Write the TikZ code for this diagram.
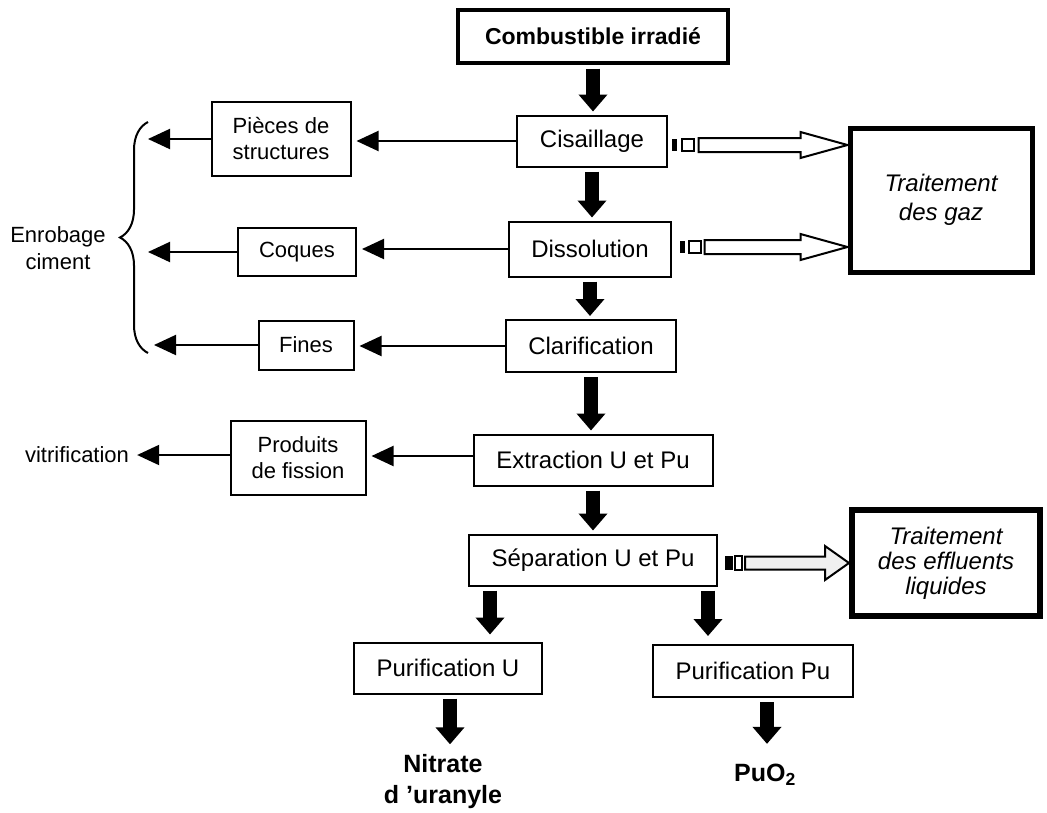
\documentclass[tikz,border=0pt]{standalone}
\usepackage{fontspec}
\setmainfont{Liberation Sans}
\usetikzlibrary{arrows.meta,calc,decorations.pathreplacing}

\begin{document}
\begin{tikzpicture}[x=1pt,y=-1pt,
    stage/.style={draw, line width=2pt, minimum height=51pt, inner sep=0pt,
      font=\fontsize{24}{28}\selectfont},
    side/.style={draw, line width=2pt, inner sep=0pt, align=center,
      font=\fontsize{22}{26}\selectfont},
    treat/.style={draw, line width=5pt, inner sep=0pt, align=center,
      font=\fontsize{24}{29}\selectfont\itshape},
    product/.style={align=center, font=\fontsize{25}{31}\selectfont\bfseries},
    flow arrow/.style={line width=14pt, -{Triangle[width=28pt,length=17pt]},
      shorten <=4pt, shorten >=3pt},
    out arrow/.style={line width=2pt, -{Triangle[width=20pt,length=22pt]}},
    gas arrow/.style={draw, line width=2pt, fill=white, line join=miter}]

    \useasboundingbox (0,0) rectangle (1047,812);

    % Combustible irradie
    \node[stage,
      minimum width=270pt,
      minimum height=53pt,
      line width=4pt,
      font=\fontsize{23}{28}\selectfont\bfseries] (comb) at (593,36) {Combustible irradié};

    % Main line
    \node[stage, minimum width=150pt] (cis) at (592,141) {Cisaillage};
    \node[stage, minimum width=162pt, minimum height=55pt] (diss) at (590,249) {Dissolution};
    \node[stage, minimum width=170pt, minimum height=52pt] (clar) at (591,346) {Clarification};
    \node[stage, minimum width=239pt] (extr) at (593,460) {Extraction U et Pu};
    \node[stage, minimum width=248pt] (sep) at (593,560) {Séparation U et Pu};
    \node[stage, minimum width=188pt] (puru) at (448,668) {Purification U};
    \node[stage, minimum width=200pt, minimum height=52pt] (purpu) at (753,671) {Purification Pu};

    % Side products
    \node[side, minimum width=139pt, minimum height=74pt] (pieces) at (281,139) {Pièces de\\structures};
    \node[side, minimum width=118pt, minimum height=48pt] (coques) at (297,252) {Coques};
    \node[side, minimum width=95pt, minimum height=49pt] (fines) at (306,345) {Fines};
    \node[side, minimum width=135pt, minimum height=74pt] (prod) at (298,458) {Produits\\de fission};

    % Treatments
    \node[treat, minimum width=182pt, minimum height=144pt] (gaz) at (941,200) {Traitement\\des gaz};
    \node[treat,
      line width=6pt,
      minimum width=188pt,
      minimum height=106pt,
      font=\fontsize{24}{25}\selectfont\itshape] (eff) at (946,563) {Traitement\\des effluents\\liquides};

    % Text labels
    \node[align=center, font=\fontsize{22}{27}\selectfont] (enrob) at (58,248) {Enrobage\\ciment};
    \node[inner sep=8pt, font=\fontsize{22}{26}\selectfont] (vitr) at (77,455) {vitrification};
    \node[product] (nitr) at (443,782) {Nitrate\\d 'uranyle};
    \node[product] (puo) at (765,775) {PuO\textsubscript{2}};

    % Brace
    \coordinate (bracetop) at (148,122);
    \coordinate (bracebot) at (148,353);
    \draw[line width=2pt, decorate, decoration={brace, amplitude=28pt}] (bracebot) -- (bracetop);

    % Draw Arrows
    \draw[flow arrow] (comb.south) -- (comb.south |- cis.north);
    \draw[flow arrow] (cis.south) -- (cis.south |- diss.north);
    \draw[flow arrow] (diss.south) -- (diss.south |- clar.north);
    \draw[flow arrow] (clar.south) -- (clar.south |- extr.north);
    \draw[flow arrow] (extr.south) -- (extr.south |- sep.north);
    \draw[flow arrow, shorten >=7pt] ([xshift=-103pt]sep.south) -- ([xshift=-103pt]sep.south |- puru.north);
    \draw[flow arrow, shorten >=8pt] ([xshift=115pt]sep.south) -- ([xshift=115pt]sep.south |- purpu.north);
    \draw[flow arrow, shorten >=7pt] ([xshift=2pt]puru.south) -- ([xshift=2pt]puru.south |- nitr.north);
    \draw[flow arrow, shorten >=17pt] ([xshift=14pt]purpu.south) -- ([xshift=14pt]purpu.south |- puo.north);

    \draw[out arrow, shorten >=5pt] (cis.west) -- (cis.west -| pieces.east);
    \draw[out arrow, shorten >=5pt] (diss.west) -- (diss.west -| coques.east);
    \draw[out arrow, shorten >=5pt] (clar.west) -- (clar.west -| fines.east);
    \draw[out arrow, shorten >=5pt] ([yshift=4pt]extr.west) -- ([yshift=4pt]extr.west -| prod.east);
    \draw[out arrow] (pieces.west) -- (pieces.west -| bracetop);
    \draw[out arrow] (coques.west) -- (coques.west -| bracetop);
    \draw[out arrow, shorten >=6pt] (fines.west) -- (fines.west -| bracetop);
    \draw[out arrow] (vitr.east -| prod.west) -- (vitr.east);

    % Gas arrows
    \coordinate (t1) at ([yshift=-4pt]cis.east -| gaz.west);
    \fill ($(t1)+(-176,-6)$) rectangle ($(t1)+(-171,6)$);
    \draw[line width=2pt] ($(t1)+(-166,-6)$) rectangle ($(t1)+(-154,6)$);
    \draw[gas arrow] (t1) -- ($(t1)+(-47,-13)$) -- ($(t1)+(-47,-7)$) -- ($(t1)+(-149,-7)$)
      -- ($(t1)+(-149,7)$) -- ($(t1)+(-47,7)$) -- ($(t1)+(-47,13)$) -- cycle;

    \coordinate (t2) at ([yshift=2pt]diss.east -| gaz.west);
    \fill ($(t2)+(-168,-6)$) rectangle ($(t2)+(-163,6)$);
    \draw[line width=2pt] ($(t2)+(-159,-6)$) rectangle ($(t2)+(-147,6)$);
    \draw[gas arrow] (t2) -- ($(t2)+(-47,-13)$) -- ($(t2)+(-47,-7)$) -- ($(t2)+(-143,-7)$)
      -- ($(t2)+(-143,7)$) -- ($(t2)+(-47,7)$) -- ($(t2)+(-47,13)$) -- cycle;

    \coordinate (t3) at ([yshift=-3pt]sep.east -| eff.west);
    \fill ($(t3)+(-124,-7)$) rectangle ($(t3)+(-116,7)$);
    \draw[line width=2pt] ($(t3)+(-114,-7)$) rectangle ($(t3)+(-107,7)$);
    \draw[gas arrow, fill=gray!12] (t3) -- ($(t3)+(-24,-17)$) -- ($(t3)+(-24,-6.5)$) -- ($(t3)+(-104,-6.5)$)
      -- ($(t3)+(-104,6.5)$) -- ($(t3)+(-24,6.5)$) -- ($(t3)+(-24,17)$) -- cycle;

\end{tikzpicture}
\end{document}
